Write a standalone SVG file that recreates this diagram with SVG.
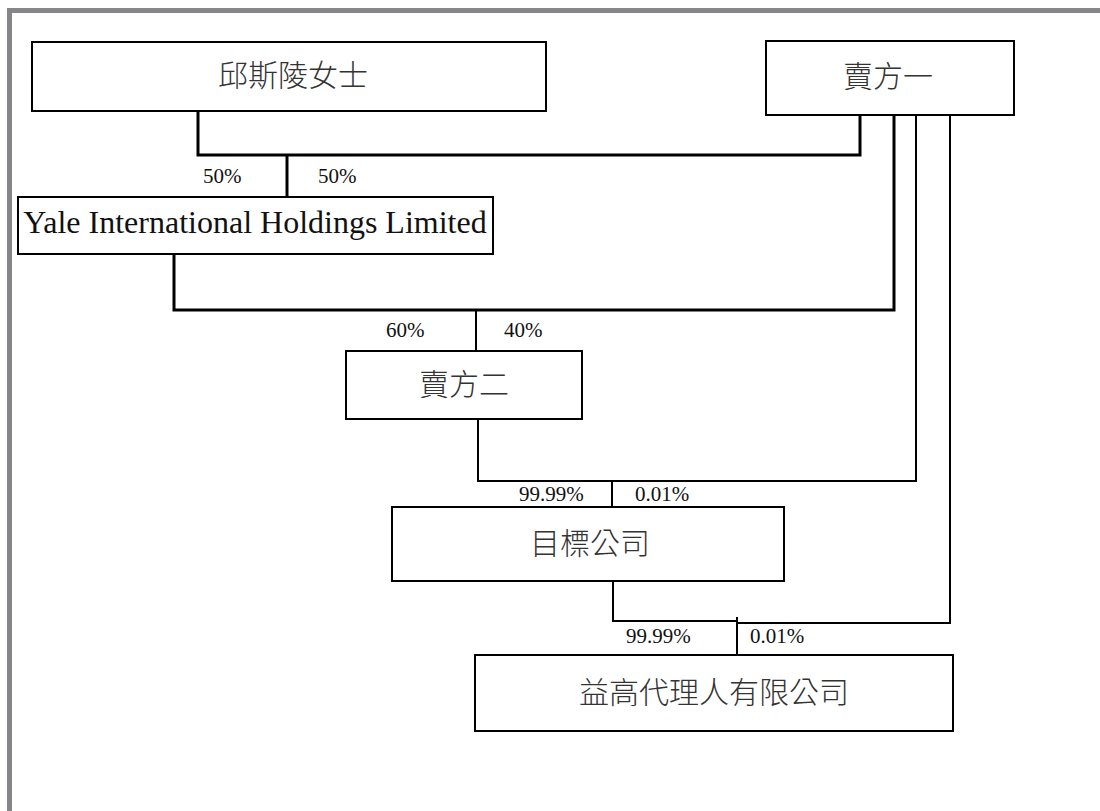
<svg xmlns="http://www.w3.org/2000/svg" width="1100" height="811" viewBox="0 0 1100 811">
<style>
.box{fill:#fff;stroke:#000;stroke-width:2}
.cjk{font-family:"Liberation Serif","Noto Sans CJK TC",serif;font-size:30px;font-weight:300;fill:#333;text-anchor:middle;dominant-baseline:central}
.en{font-family:"Liberation Serif",serif;font-size:32px;fill:#111;text-anchor:middle}
.pct{font-family:"Liberation Serif",serif;font-size:21px;fill:#111}
.c{fill:none;stroke:#000;stroke-width:2}
.ct{fill:none;stroke:#000;stroke-width:3}
</style>
<rect x="0" y="0" width="1100" height="811" fill="#fff"/>
<rect x="9.5" y="10.5" width="1200" height="900" fill="none" stroke="#86868a" stroke-width="5"/>
<g id="connectors">
<path class="ct" d="M198,111 V155 H860 V115"/>
<path class="ct" d="M287,155 V197"/>
<path class="ct" d="M174,254 V310 H894 V115"/>
<path class="c" d="M476,310 V351"/>
<path class="c" d="M478,419 V481 H916 V115"/>
<path class="c" d="M612,481 V507"/>
<path class="c" d="M613,581 V621 H737"/>
<path class="c" d="M737,617 V655"/>
<path class="c" d="M737,623 H950 V115"/>
<text class="pct" x="203" y="183">50%</text>
<text class="pct" x="318" y="183">50%</text>
<text class="pct" x="386" y="337">60%</text>
<text class="pct" x="504" y="337">40%</text>
<text class="pct" x="519" y="501">99.99%</text>
<text class="pct" x="635" y="501">0.01%</text>
<text class="pct" x="626" y="643">99.99%</text>
<text class="pct" x="750" y="643">0.01%</text>
</g>
<g id="node-khoo">
<rect class="box" x="32" y="42" width="514" height="69"/>
<text class="cjk" x="293" y="75">邱斯陵女士</text>
</g>
<g id="node-vendor1">
<rect class="box" x="766" y="41" width="248" height="74"/>
<text class="cjk" x="888" y="76">賣方一</text>
</g>
<g id="node-yale">
<rect class="box" x="18" y="197" width="475" height="57"/>
<text class="en" x="255" y="233">Yale International Holdings Limited</text>
</g>
<g id="node-vendor2">
<rect class="box" x="346" y="351" width="236" height="68"/>
<text class="cjk" x="464" y="384">賣方二</text>
</g>
<g id="node-target">
<rect class="box" x="392" y="507" width="392" height="74"/>
<text class="cjk" x="590" y="543">目標公司</text>
</g>
<g id="node-yigao">
<rect class="box" x="475" y="655" width="478" height="76"/>
<text class="cjk" x="714" y="692">益高代理人有限公司</text>
</g>
</svg>
